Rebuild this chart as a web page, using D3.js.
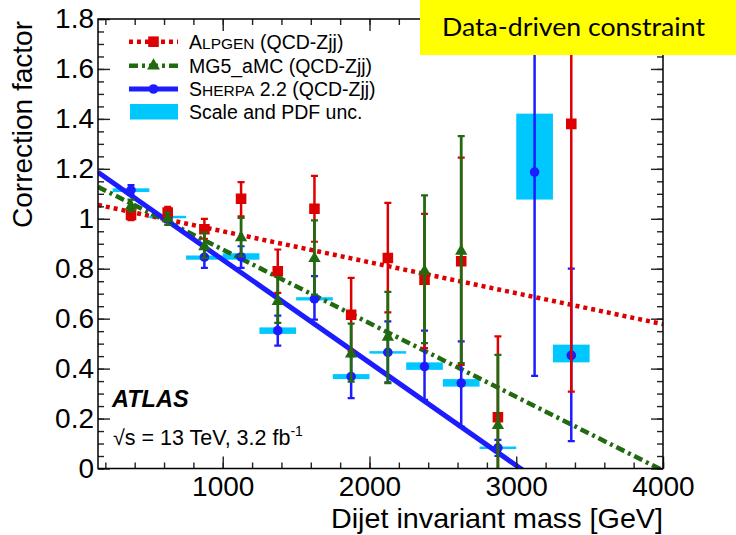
<!DOCTYPE html>
<html><head><meta charset="utf-8">
<script src="https://cdn.jsdelivr.net/npm/d3@7/dist/d3.min.js"></script>
<style>
body{margin:0;background:#fff}
svg{display:block}
text{font-family:"Liberation Sans",Arial,Helvetica,sans-serif;fill:#000}
</style>
</head><body>
<svg id="c" width="736" height="535"></svg>
<script>
// ---------------- data ----------------
const bins = [375, 625, 875, 1125, 1375, 1625, 1875, 2125, 2375, 2625, 2875, 3125, 3375];
const binWidth = 250;

const alpgenVal = [1.015, 1.025, 0.958, 1.08, 0.79, 1.04, 0.616, 0.843, 0.756, 0.83, 0.205, null, 1.38];
const alpgenLo  = [0.995, 1.0, 0.92, 1.01, 0.703, 0.908, 0.47, 0.625, 0.482, 0.415, -0.12, null, 0.308];
const alpgenHi  = [1.035, 1.048, 1.0, 1.147, 0.877, 1.172, 0.763, 1.064, 1.02, 1.245, 0.529, null, 2.45];

const mg5Val = [1.05, 1.0, 0.888, 0.924, 0.669, 0.841, 0.459, 0.526, 0.79, 0.87, 0.172, null, null];
const mg5Lo  = [1.03, 0.975, 0.843, 0.85, 0.583, 0.696, 0.348, 0.342, 0.502, 0.422, -0.11, null, null];
const mg5Hi  = [1.077, 1.025, 0.946, 1.004, 0.767, 0.994, 0.58, 0.707, 1.094, 1.331, 0.455, null, null];

const sherpaVal = [1.115, 1.0, 0.846, 0.847, 0.552, 0.679, 0.368, 0.465, 0.408, 0.342, 0.083, 1.187, 0.453];
const sherpaLo  = [1.095, 0.985, 0.803, 0.803, 0.492, 0.596, 0.282, 0.345, 0.275, 0.168, 0.05, 0.371, 0.11];
const sherpaHi  = [1.135, 1.015, 0.89, 0.89, 0.612, 0.77, 0.45, 0.589, 0.552, 0.509, 0.115, 2.0, 0.8];

const pdfLo = [1.107, 1.003, 0.836, 0.836, 0.539, 0.673, 0.358, 0.460, 0.395, 0.328, 0.079, 1.077, 0.425];
const pdfHi = [1.122, 1.012, 0.853, 0.862, 0.565, 0.686, 0.378, 0.470, 0.425, 0.358, 0.088, 1.421, 0.496];

// linear fits: value = intercept + slope * mass
const fitIntercept = [1.074, 1.172, 1.248];   // ALPGEN, MG5_aMC, SHERPA
const fitSlope     = [-1.24e-4, -2.95e-4, -4.12e-4];
const fitRange     = [150, 4000];

const xMajorTicks = [1000, 2000, 3000, 4000];
const xTickLabels = ["1000", "2000", "3000", "4000"];
const xMinorTicks = d3.range(200, 4001, 200);
const yMajorTicks = [0, 0.2, 0.4, 0.6, 0.8, 1.0, 1.2, 1.4, 1.6, 1.8];
const yTickLabels = ["0", "0.2", "0.4", "0.6", "0.8", "1", "1.2", "1.4", "1.6", "1.8"];
const yMinorTicks = d3.range(0, 1.8001, 0.05);

// ---------------- styles ----------------
const RED = "#dd0000", GREEN = "#226a10", BLUE = "#1c1cff", CYAN = "#00c8ff";

const svg = d3.select("#c");
const L = 98, R = 663, T = 19, B = 468.5;
const x = d3.scaleLinear().domain([150, 4000]).range([L, R]);
const y = d3.scaleLinear().domain([0, 1.8]).range([B, T]);

svg.append("defs").append("clipPath").attr("id", "clip")
  .append("rect").attr("x", L).attr("y", T).attr("width", R - L).attr("height", B - T);

const plot = svg.append("g").attr("clip-path", "url(#clip)");

// uncertainty boxes
plot.append("g").selectAll("rect").data(bins).join("rect")
  .attr("x", d => x(d - binWidth / 2))
  .attr("width", d => x(d + binWidth / 2) - x(d - binWidth / 2))
  .attr("y", (d, i) => y(pdfHi[i]))
  .attr("height", (d, i) => Math.max(y(pdfLo[i]) - y(pdfHi[i]), 2.5))
  .attr("fill", CYAN);

// fit lines
const fitStyles = [
  {color: RED, width: 4.5, dash: "4,4"},
  {color: GREEN, width: 4.5, dash: "9,4,3,4"},
  {color: BLUE, width: 5, dash: null}
];
const line = d3.line().x(d => x(d[0])).y(d => y(d[1]));
fitIntercept.forEach((a, k) => {
  const pts = fitRange.map(m => [m, a + fitSlope[k] * m]);
  plot.append("path").attr("d", line(pts))
    .attr("fill", "none")
    .attr("stroke", fitStyles[k].color)
    .attr("stroke-width", fitStyles[k].width)
    .attr("stroke-dasharray", fitStyles[k].dash);
});

// error bars + markers
function drawSeries(vals, lo, hi, color, sw, symbol, size) {
  const g = plot.append("g");
  bins.forEach((m, i) => {
    if (vals[i] == null) return;
    const cx = x(m);
    g.append("line").attr("x1", cx).attr("x2", cx).attr("y1", y(lo[i])).attr("y2", y(hi[i]))
      .attr("stroke", color).attr("stroke-width", sw);
    [lo[i], hi[i]].forEach(v => {
      g.append("line").attr("x1", cx - 3.5).attr("x2", cx + 3.5).attr("y1", y(v)).attr("y2", y(v))
        .attr("stroke", color).attr("stroke-width", 2.2);
    });
  });
  bins.forEach((m, i) => {
    if (vals[i] == null) return;
    g.append("path").attr("d", d3.symbol().type(symbol).size(size)())
      .attr("transform", `translate(${x(m)},${y(vals[i])})`)
      .attr("fill", color);
  });
}
drawSeries(sherpaVal, sherpaLo, sherpaHi, BLUE, 2.5, d3.symbolCircle, 72);
drawSeries(alpgenVal, alpgenLo, alpgenHi, RED, 2.5, d3.symbolSquare, 112);
drawSeries(mg5Val, mg5Lo, mg5Hi, GREEN, 2.8, d3.symbolTriangle, 66);

// ---------------- axes ----------------
function ax(gen, tr, vals, size, labels) {
  const a = gen.tickValues(vals).tickSizeInner(-size).tickSizeOuter(0)
    .tickPadding(labels ? 8 : 0).tickFormat(labels ? ((d, i) => labels[i]) : "");
  const g = svg.append("g").attr("transform", tr).call(a);
  g.select(".domain").remove();
  g.selectAll(".tick line").attr("stroke", "#222").attr("stroke-width", 1.4);
  g.selectAll("text").attr("font-size", 28).attr("fill", "#000");
  return g;
}
ax(d3.axisBottom(x), `translate(0,${B})`, xMinorTicks, 6, null);
ax(d3.axisBottom(x), `translate(0,${B})`, xMajorTicks, 12, xTickLabels);
ax(d3.axisTop(x), `translate(0,${T})`, xMinorTicks, 6, null);
ax(d3.axisTop(x), `translate(0,${T})`, xMajorTicks, 12, null);
ax(d3.axisLeft(y), `translate(${L},0)`, yMinorTicks, 6, null);
const ly = ax(d3.axisLeft(y), `translate(${L},0)`, yMajorTicks, 12, yTickLabels);
ly.selectAll("text").attr("x", -4);
ax(d3.axisRight(y), `translate(${R},0)`, yMinorTicks, 6, null);
ax(d3.axisRight(y), `translate(${R},0)`, yMajorTicks, 12, null);

svg.append("rect").attr("x", L).attr("y", T).attr("width", R - L).attr("height", B - T)
  .attr("fill", "none").attr("stroke", "#000").attr("stroke-width", 1.5);

// axis titles
svg.append("text").attr("x", R).attr("y", 528).attr("text-anchor", "end")
  .attr("font-size", 28.5).attr("textLength", 332).attr("lengthAdjust", "spacingAndGlyphs")
  .text("Dijet invariant mass [GeV]");
svg.append("text").attr("transform", `translate(32,${T + 2}) rotate(-90)`)
  .attr("text-anchor", "end").attr("font-size", 28).text("Correction factor");

// ---------------- legend ----------------
const legend = svg.append("g");
const legRows = [
  {y: 41.7, color: RED, width: 4.5, dash: "4,4", sym: d3.symbolSquare, size: 112,
   parts: [["A", 19.5], ["LPGEN", 15.5], [" (QCD-Zjj)", 19.5]]},
  {y: 65.7, color: GREEN, width: 4.5, dash: "9,4,3,4", sym: d3.symbolTriangle, size: 72,
   parts: [["MG5_aMC (QCD-Zjj)", 19.5]]},
  {y: 89, color: BLUE, width: 5, dash: null, sym: d3.symbolCircle, size: 72,
   parts: [["S", 19.5], ["HERPA", 15.5], [" 2.2 (QCD-Zjj)", 19.5]]}
];
legRows.forEach(r => {
  legend.append("line").attr("x1", 129).attr("x2", 178).attr("y1", r.y).attr("y2", r.y)
    .attr("stroke", r.color).attr("stroke-width", r.width).attr("stroke-dasharray", r.dash);
  legend.append("path").attr("d", d3.symbol().type(r.sym).size(r.size)())
    .attr("transform", `translate(153.5,${r.y})`).attr("fill", r.color);
  const t = legend.append("text").attr("x", 189).attr("y", r.y + 6.8).attr("font-size", 19.5);
  r.parts.forEach(p => t.append("tspan").attr("font-size", p[1]).text(p[0]));
});
legend.append("rect").attr("x", 130).attr("y", 104).attr("width", 48).attr("height", 15.5).attr("fill", CYAN);
legend.append("text").attr("x", 189).attr("y", 118.8).attr("font-size", 19.5).text("Scale and PDF unc.");

// ATLAS label
svg.append("text").attr("x", 112).attr("y", 406.5).attr("font-size", 23.5)
  .attr("font-weight", "bold").attr("font-style", "italic").text("ATLAS");
const en = svg.append("text").attr("x", 113).attr("y", 445).attr("font-size", 21.5);
en.append("tspan").text("√s = 13 TeV, 3.2 fb");
en.append("tspan").attr("font-size", 14).attr("dy", -9).text("-1");

// yellow annotation box
svg.append("rect").attr("x", 420).attr("y", 0).attr("width", 316).attr("height", 55).attr("fill", "#ffff00");
svg.append("text").attr("x", 442).attr("y", 36).attr("font-size", 25)
  .style("font-family", "Lato, 'Open Sans', sans-serif")
  .attr("textLength", 263).attr("lengthAdjust", "spacingAndGlyphs").text("Data-driven constraint");
</script>
</body></html>
